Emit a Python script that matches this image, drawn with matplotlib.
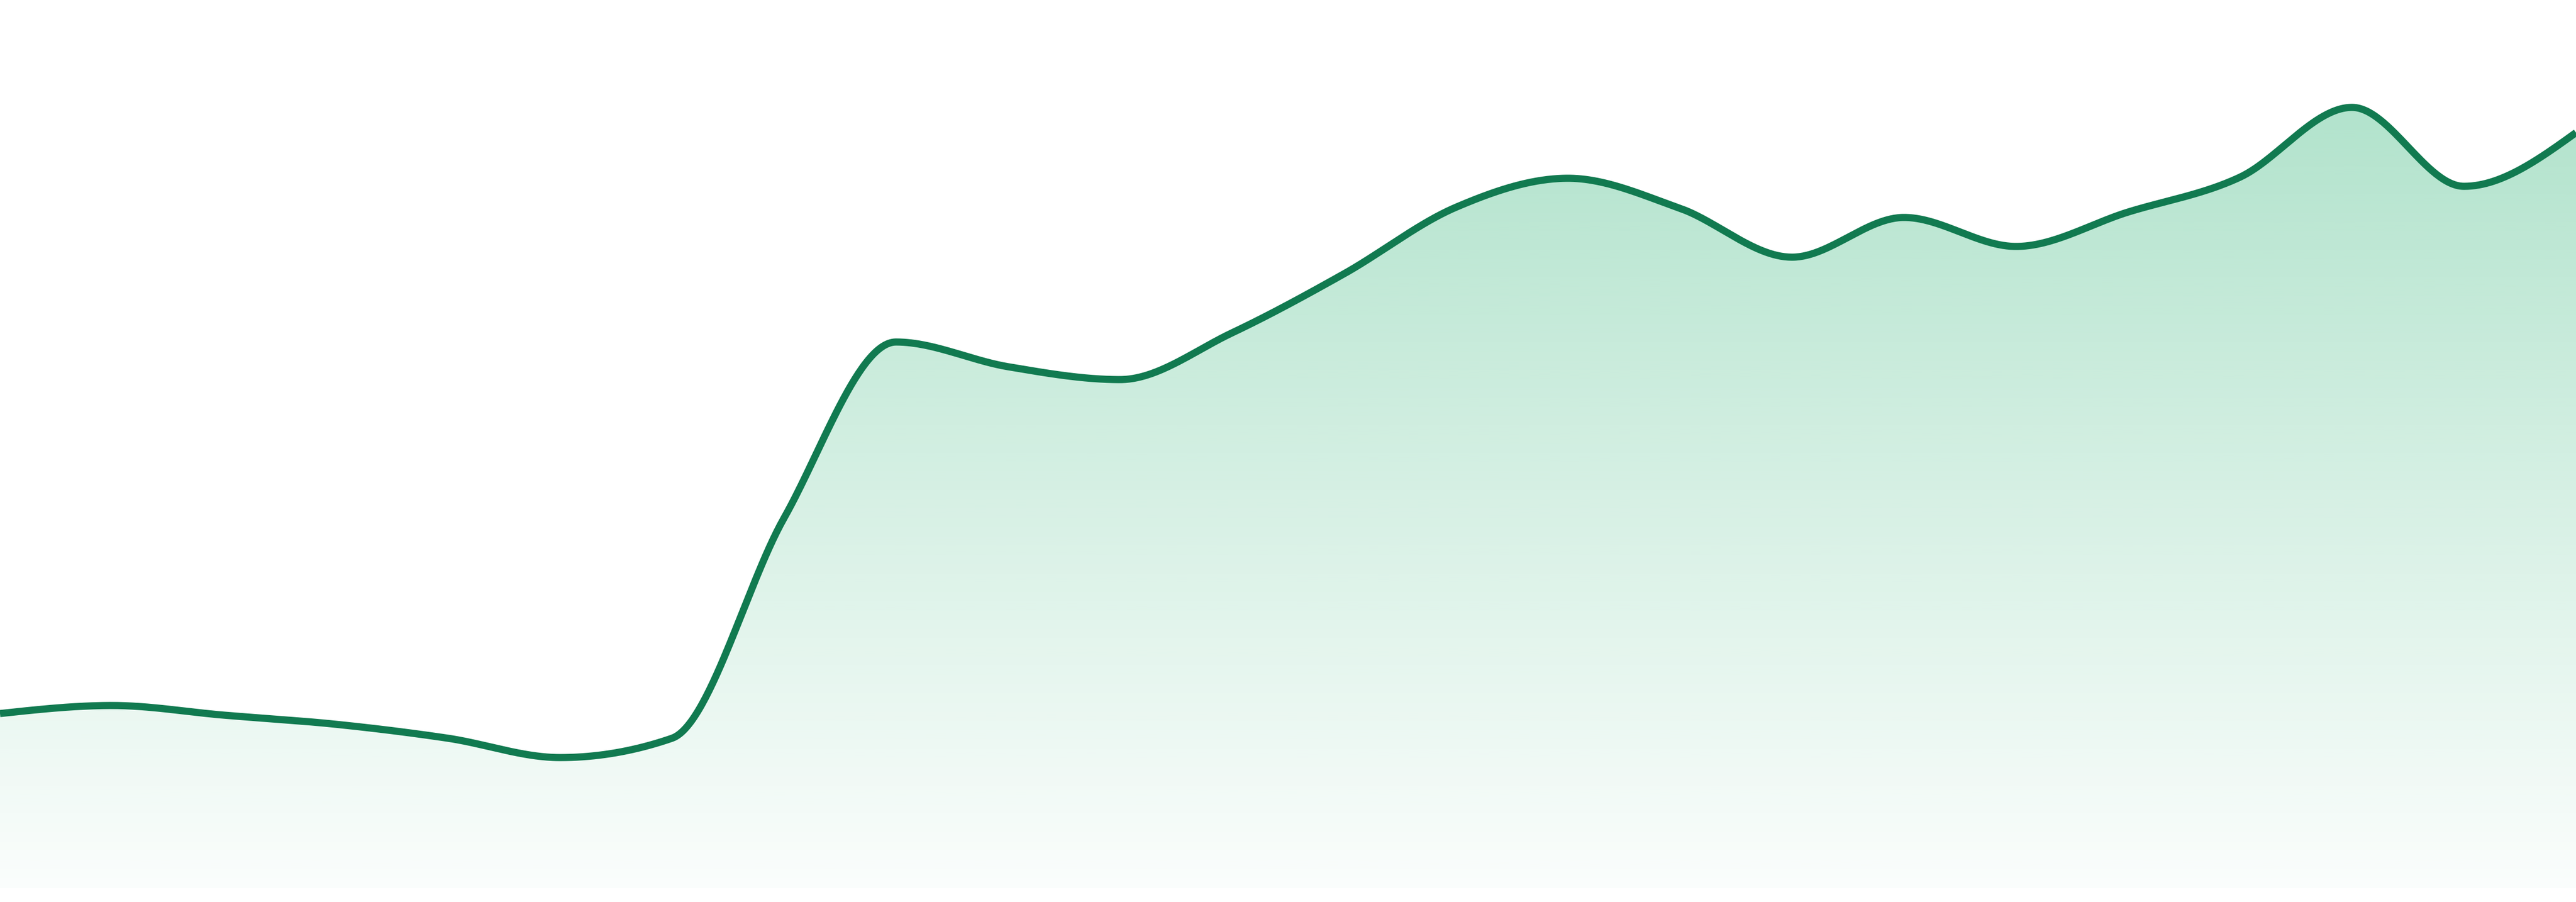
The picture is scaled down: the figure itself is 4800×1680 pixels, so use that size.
import numpy as np
import matplotlib
matplotlib.use("Agg")
import matplotlib.pyplot as plt
from matplotlib.patches import Polygon

# values (one point per step)
steps = list(range(24))
values = [35.1, 36.6, 34.8, 33.1, 30.5, 26.9, 30.5, 71.5, 104.3, 99.7, 97.3, 106.0,
          117.0, 129.4, 134.8, 129.2, 120.1, 127.5, 122.1, 128.5, 135.0, 148.0, 133.3, 143.3]
baseline = 2.6

line_color = "#117a50"
fill_rgb = (34 / 255, 175 / 255, 110 / 255)


def monotone_x(xs, ys, n=60):
    # same idea as d3.curveMonotoneX
    xs = np.asarray(xs, float)
    ys = np.asarray(ys, float)
    h = np.diff(xs)
    s = np.diff(ys) / h
    t = np.zeros(len(xs))
    for i in range(1, len(xs) - 1):
        p = (s[i - 1] * h[i] + s[i] * h[i - 1]) / (h[i - 1] + h[i])
        t[i] = (np.sign(s[i - 1]) + np.sign(s[i])) * min(abs(s[i - 1]), abs(s[i]), 0.5 * abs(p))
    t[0] = (3 * s[0] - t[1]) / 2
    t[-1] = (3 * s[-1] - t[-2]) / 2
    out_x, out_y = [], []
    for i in range(len(xs) - 1):
        u = np.linspace(0, 1, n, endpoint=False)
        h00 = 2 * u**3 - 3 * u**2 + 1
        h10 = u**3 - 2 * u**2 + u
        h01 = -2 * u**3 + 3 * u**2
        h11 = u**3 - u**2
        out_x.append(xs[i] + u * h[i])
        out_y.append(h00 * ys[i] + h10 * h[i] * t[i] + h01 * ys[i + 1] + h11 * h[i] * t[i + 1])
    out_x.append([xs[-1]])
    out_y.append([ys[-1]])
    return np.concatenate(out_x), np.concatenate(out_y)


cx, cy = monotone_x(steps, values)

fig = plt.figure(figsize=(16, 5.6), dpi=300)
ax = fig.add_axes([0, 0, 1, 1])
ax.set_xlim(steps[0], steps[-1])
ax.set_ylim(0, 168)
ax.axis("off")

# vertical gradient under the curve
top = max(values)
grad = np.linspace(0.35, 0.02, 256)
img = np.zeros((256, 1, 4))
img[..., 0], img[..., 1], img[..., 2] = fill_rgb
img[:, 0, 3] = grad
im = ax.imshow(img, extent=[steps[0], steps[-1], baseline, top], aspect="auto",
               origin="upper", interpolation="bilinear", zorder=1)
poly = Polygon(np.column_stack([np.r_[cx, cx[-1], cx[0]], np.r_[cy, baseline, baseline]]),
               closed=True, facecolor="none", edgecolor="none")
ax.add_patch(poly)
im.set_clip_path(poly)

ax.plot(cx, cy, color=line_color, linewidth=3.2, solid_capstyle="butt", zorder=3)

fig.savefig("out.png", dpi=300, facecolor="white")
